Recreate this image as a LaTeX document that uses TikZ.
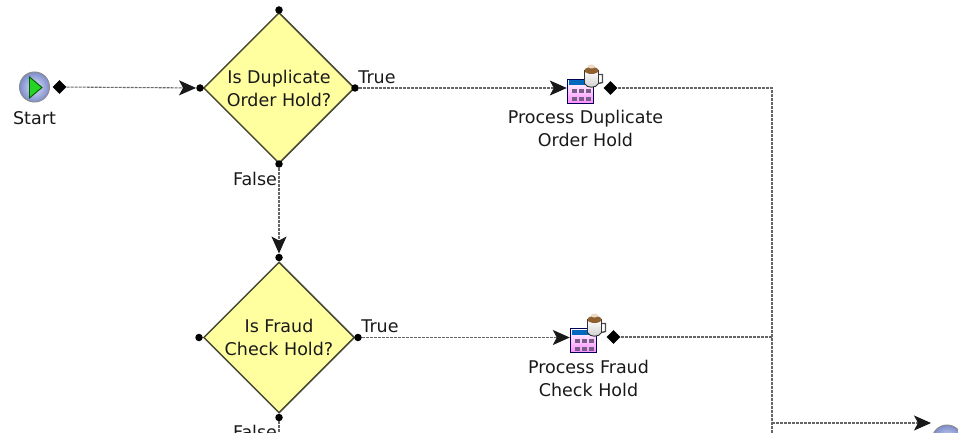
\documentclass[tikz,border=0pt]{standalone}
\usepackage{fontspec}
\setmainfont{DejaVu Sans}
\usetikzlibrary{shapes.geometric,arrows.meta}
\definecolor{holdyellow}{RGB}{255,255,160}
\definecolor{holdedge}{RGB}{70,70,50}
\definecolor{ballblue}{RGB}{125,140,205}
\definecolor{ballpale}{RGB}{222,228,248}
\definecolor{calpurple}{RGB}{120,95,135}
\tikzset{
  label/.style={inner sep=0pt, align=center, text=black!90, font=\fontsize{17.5}{23}\selectfont},
  decision/.style={draw=holdedge, line width=1.5pt, fill=holdyellow, diamond, aspect=1, inner sep=0pt, minimum width=151pt, minimum height=151pt, label},
  port/.style={circle, fill=black, inner sep=0pt, minimum size=7.5pt},
  outport/.style={diamond, fill=black, inner sep=0pt, minimum size=14pt},
  flow/.style={draw=black!60, dashed, dash pattern=on 3pt off 1pt, line width=1.1pt},
  flowtip/.style={flow, -{Stealth[inset=4pt, length=17pt, width=15pt, color=black!90]}},
  taskbox/.style={inner sep=0pt, minimum width=27pt, minimum height=25pt},
  eventball/.style={circle, draw=black!45, line width=1pt, inner color=ballpale, outer color=ballblue, inner sep=0pt, minimum size=30pt},
  taskicon/.pic={
    \draw[draw=blue!35!black, line width=1.6pt, top color=white, bottom color=magenta!45] (-13,-12) rectangle (13,12);
    \fill[blue!45!cyan!75!black] (-12,-11) rectangle (12,-6);
    \foreach \col in {-9,-2,5} \foreach \row in {-2,6}
      \fill[calpurple] (\col,\row) rectangle +(5,4);
    % cup handle, body and coffee
    \draw[black!70, line width=1.4pt] (18,-17) -- (22,-17) -- (22,-9) -- (18,-8);
    \draw[black!80, top color=white, bottom color=black!20, line width=.9pt] (4,-21) -- (4,-8) .. controls (6,-3) and (16,-3) .. (18,-8) -- (18,-21) -- cycle;
    \fill[brown!75!black] (11,-21) ellipse (7pt and 3.5pt);
    \fill[brown!30] (11,-25) ellipse (3.5pt and 2pt);
  }
}
\begin{document}
\begin{tikzpicture}[x=1pt, y=-1pt]
  \useasboundingbox (0,0) rectangle (958,433);
  \clip (0,0) rectangle (958,433);

  % start event
  \node[eventball] (start) at (34.5,87) {};
  \fill[green!80!black!85!white, draw=green!35!black, line width=.9pt] (29.5,77) -- (42,87.5) -- (29.5,98) -- cycle;
  \node[label, below of=start, node distance=31pt] (startlabel) {Start};
  \node[outport, right of=start, node distance=25pt] (startout) {};

  % decisions
  \node[decision] (duphold) at (279,88) {Is Duplicate\\Order Hold?};
  \node[decision, below of=duphold, node distance=249.5pt] (fraudhold) {Is Fraud\\Check Hold?};

  \node[port, left of=duphold, node distance=79pt] (dupin) {};
  \node[port, right of=duphold, node distance=76pt] (dupout) {};
  \node[port, above of=duphold, node distance=78pt] (duptop) {};
  \node[port, below of=duphold, node distance=76pt] (dupbottom) {};
  \node[port, left of=fraudhold, node distance=80pt] (fraudin) {};
  \node[port, right of=fraudhold, node distance=79pt] (fraudout) {};
  \node[port, above of=fraudhold, node distance=80pt] (fraudtop) {};
  \node[port, below of=fraudhold, node distance=80pt] (fraudbottom) {};

  \node[label, right of=dupout, node distance=22pt, yshift=11pt] (duptrue) {True};
  \node[label, below of=dupbottom, node distance=15pt, xshift=-24pt] (dupfalse) {False};
  \node[label, right of=fraudout, node distance=22pt, yshift=11pt] (fraudtrue) {True};
  \node[label, below of=fraudbottom, node distance=14pt, xshift=-24pt] (fraudfalse) {False};

  % tasks
  \node[taskbox] (duptask) at (580.5,91.5) {};
  \pic at (duptask) {taskicon};
  \node[outport, right of=duptask, node distance=30pt, yshift=3.5pt] (dupdone) {};
  \node[label, below of=duptask, node distance=37pt, xshift=5pt] (duplabel) {Process Duplicate\\Order Hold};

  \node[taskbox] (fraudtask) at (583.5,340.5) {};
  \pic at (fraudtask) {taskicon};
  \node[outport, right of=fraudtask, node distance=30pt, yshift=3.5pt] (frauddone) {};
  \node[label, below of=fraudtask, node distance=38pt, xshift=5pt] (fraudlabel) {Process Fraud\\Check Hold};

  % merge
  \coordinate (mergeturn) at (772,423);
  \coordinate (mergeend) at (772,433);
  \node[eventball] (finish) at (947,440) {};
  \coordinate (finishin) at (931,423);

  \draw[flowtip] (startout) -- (dupin);
  \draw[flowtip] (dupbottom) -- (fraudtop);
  \draw[flowtip] (dupout) -- (duptask.west |- dupout);
  \draw[flowtip] (fraudout) -- (fraudtask.west |- fraudout);
  \draw[flow] (dupdone) -| (mergeend);
  \draw[flow] (frauddone) -| (mergeturn);
  \draw[flowtip] (mergeturn) -- (finishin);
  \draw[flow] (fraudbottom) -- (fraudbottom |- mergeend);
\end{tikzpicture}
\end{document}
